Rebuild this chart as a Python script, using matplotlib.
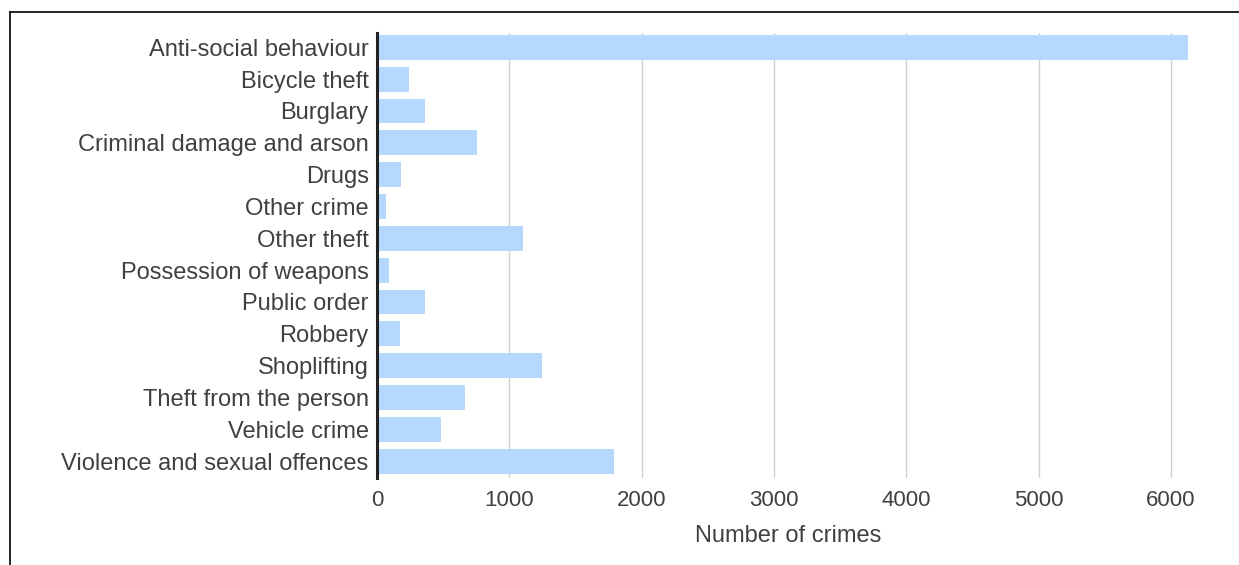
import matplotlib
matplotlib.use('Agg')
import matplotlib.pyplot as plt
from matplotlib.lines import Line2D

# Crime categories and counts
categories = ['Anti-social behaviour', 'Bicycle theft', 'Burglary',
              'Criminal damage and arson', 'Drugs', 'Other crime',
              'Other theft', 'Possession of weapons', 'Public order',
              'Robbery', 'Shoplifting', 'Theft from the person',
              'Vehicle crime', 'Violence and sexual offences']
counts = [6130, 244, 365, 758, 181, 66, 1106, 91, 365, 174, 1245, 667, 486, 1791]
x_ticks = [0, 1000, 2000, 3000, 4000, 5000, 6000]

plt.rcParams['font.family'] = ['Liberation Sans', 'DejaVu Sans']
text_color = '#404040'

fig = plt.figure(figsize=(12.39, 5.65), dpi=100)
ax = fig.add_axes([377 / 1239, 1 - 478 / 565, (1200 - 377) / 1239, (478 - 33) / 565])

ax.barh(range(len(categories)), counts, height=0.78, color='#b5d8fc', zorder=2)

ax.set_ylim(13.53, -0.45)
ax.set_xlim(0, 6220)
ax.set_xticks(x_ticks)
ax.set_xticklabels([str(t) for t in x_ticks])
ax.set_yticks(range(len(categories)))
ax.set_yticklabels(categories)

ax.grid(axis='x', color='#d0d0d0', linewidth=1, zorder=0)
for side in ['top', 'right', 'bottom']:
    ax.spines[side].set_visible(False)
ax.spines['left'].set_linewidth(2.2)
ax.spines['left'].set_color('#222222')
ax.spines['left'].set_zorder(3)

ax.tick_params(axis='both', length=0, colors=text_color)
ax.tick_params(axis='y', labelsize=17, pad=6)
ax.tick_params(axis='x', labelsize=16, pad=9)
ax.set_xlabel('Number of crimes', fontsize=17, color=text_color, labelpad=10)

# border lines (left and top only, the rest is cut off)
bx, by = 10 / 1239, 1 - 12 / 565
fig.lines.append(Line2D([bx, bx], [0, by], transform=fig.transFigure,
                        color='black', linewidth=1.2))
fig.lines.append(Line2D([bx, 1], [by, by], transform=fig.transFigure,
                        color='black', linewidth=1.2))

fig.savefig('out.png', dpi=100)
